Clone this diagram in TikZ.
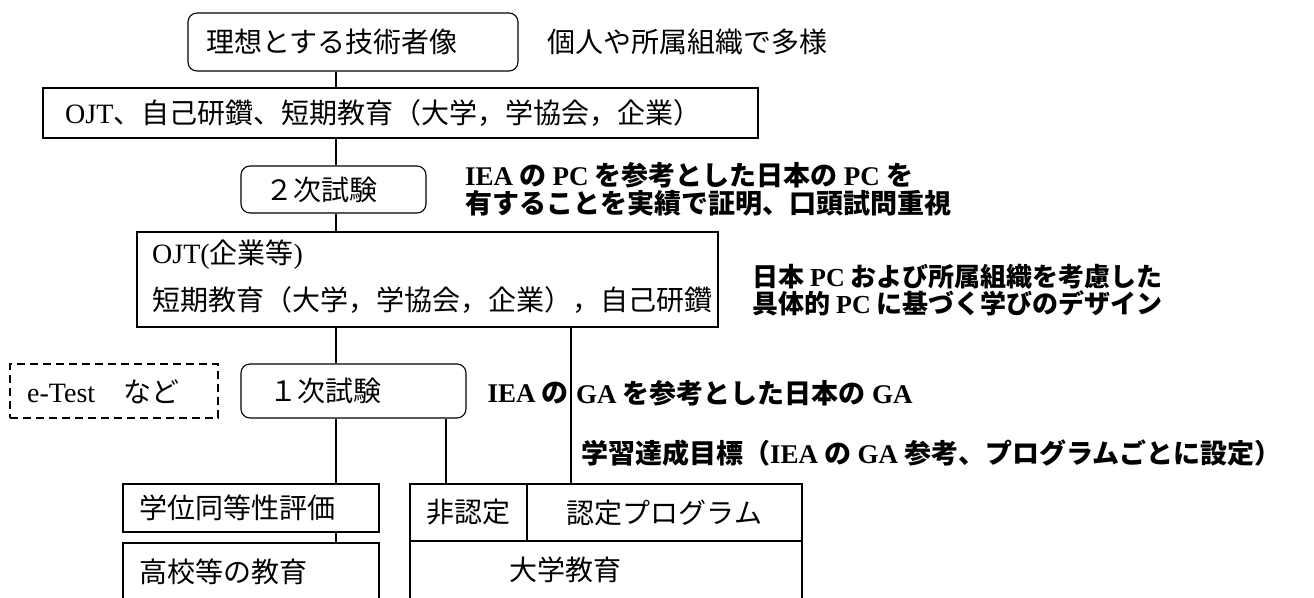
\documentclass[tikz,border=0pt]{standalone}
\usepackage{fontspec}
\setmainfont{Noto Sans CJK JP}
\newfontfamily\lat{Liberation Serif}
\newcommand{\la}[1]{{\lat #1}}
\begin{document}
\begin{tikzpicture}[x=1pt,y=-1pt,
  box/.style={draw, line width=1.1pt, inner sep=0pt},
  rbox/.style={box, rounded corners=9pt},
  dbox/.style={box, dashed, dash pattern=on 8pt off 5pt},
  txt/.style={anchor=west, inner sep=0pt, align=left, font=\fontsize{28}{28}\selectfont},
  ctxt/.style={inner sep=0pt, font=\fontsize{28}{28}\selectfont},
  btxt/.style={anchor=west, inner sep=0pt, align=left, font=\fontsize{27}{28}\selectfont\bfseries},
  conn/.style={line width=1.1pt}]
\useasboundingbox (0,0) rectangle (1314,597);
\clip (0,0) rectangle (1314,597);

% boxes
\node[rbox, minimum width=330pt, minimum height=58pt] (ideal) at (353,42) {};
\node[txt] (idealt) at (206,42) {理想とする技術者像};
\node[txt] (note1) at (547,42) {個人や所属組織で多様};

\node[box, minimum width=715pt, minimum height=50pt] (ojt1) at (400.5,113) {};
\node[txt] (ojt1t) at (65,113) {\la{OJT}、自己研鑽、短期教育（大学，学協会，企業）};

\node[rbox, minimum width=185pt, minimum height=47pt] (exam2) at (333.5,189.5) {};
\node[txt] (exam2t) at (265,190) {２次試験};
\node[btxt] (pc) at (465,189) {\la{IEA} の \la{PC} を参考とした日本の \la{PC} を\\有することを実績で証明、口頭試問重視};

\node[box, minimum width=581pt, minimum height=95pt] (ojt2) at (427.5,279.5) {};
\node[txt] (ojt2a) at (152,255) {\la{OJT(}企業等\la{)}};
\node[txt] (ojt2b) at (152,300) {短期教育（大学，学協会，企業），自己研鑽};
\node[btxt, font=\fontsize{26}{27}\selectfont\bfseries] (design) at (752,290) {日本 \la{PC} および所属組織を考慮した\\具体的 \la{PC} に基づく学びのデザイン};

\node[dbox, minimum width=208pt, minimum height=54pt] (etest) at (114,391) {};
\node[txt] (etestt) at (27,392) {\la{e-Test}　など};
\node[rbox, minimum width=225pt, minimum height=54pt] (exam1) at (353.5,391) {};
\node[txt] (exam1t) at (269,391) {１次試験};
\node[btxt, anchor=east] (ga1) at (569,393) {\la{IEA} の};
\node[btxt] (ga2) at (576,393) {\la{GA} を参考とした日本の \la{GA}};
\node[btxt] (goal) at (581,453) {学習達成目標（\la{IEA} の \la{GA} 参考、プログラムごとに設定）};

\node[box, minimum width=256pt, minimum height=48pt] (degree) at (251,508) {};
\node[txt] (degreet) at (139,508) {学位同等性評価};
\node[box, minimum width=256pt, minimum height=62pt] (hs) at (251,574) {};
\node[txt] (hst) at (139,572) {高校等の教育};

\node[box, minimum width=117pt, minimum height=57pt, ctxt] (nonacc) at (468.5,512.5) {非認定};
\node[box, minimum width=275pt, minimum height=57pt, ctxt] (acc) at (664.5,512.5) {認定プログラム};
\node[box, minimum width=392pt, minimum height=64pt] (univ) at (606,573) {};
\node[ctxt] (univt) at (565,570) {大学教育};

% connector x positions
\coordinate (xa) at (336,0);
\coordinate (xb) at (446,0);
\coordinate (xc) at (571,0);

\draw[conn] (ideal.south -| xa) -- (ojt1.north -| xa);
\draw[conn] (ojt1.south -| xa) -- (exam2.north -| xa);
\draw[conn] (exam2.south -| xa) -- (ojt2.north -| xa);
\draw[conn] (ojt2.south -| xa) -- (exam1.north -| xa);
\draw[conn] (ojt2.south -| xc) -- (acc.north -| xc);
\draw[conn] (exam1.south -| xa) -- (degree.north -| xa);
\draw[conn] (exam1.south -| xb) -- (nonacc.north -| xb);
\draw[conn] (degree.south -| xa) -- (hs.north -| xa);
\end{tikzpicture}
\end{document}
